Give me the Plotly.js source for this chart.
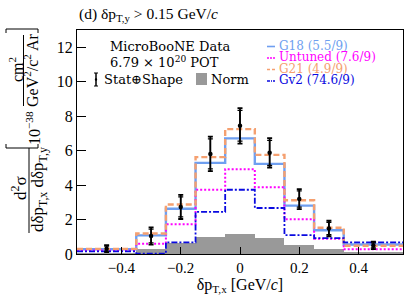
<!DOCTYPE html>
<html>
<head>
<meta charset="utf-8">
<script src="https://cdn.plot.ly/plotly-3.0.1.min.js"></script>
<style>html,body{margin:0;padding:0;background:#fff;}#plot{width:407px;height:295px;}</style>
</head>
<body>
<div id="plot"></div>
<script>
// ---- data ----
const binEdges   = [-0.55, -0.35, -0.25, -0.15, -0.05, 0.05, 0.15, 0.25, 0.35, 0.55];
const binCenters = [-0.45, -0.30, -0.20, -0.10, 0.00, 0.10, 0.20, 0.30, 0.45];
const binWidths  = [0.20, 0.10, 0.10, 0.10, 0.10, 0.10, 0.10, 0.10, 0.20];
const dataVals   = [0.31, 1.04, 2.73, 5.81, 7.44, 5.87, 3.19, 1.48, 0.50];
const errTotal   = [0.20, 0.50, 0.70, 1.00, 1.03, 0.85, 0.58, 0.45, 0.22];
const errStat    = [0.14, 0.40, 0.58, 0.87, 0.89, 0.73, 0.47, 0.36, 0.15];
const g18        = [0.28, 1.08, 2.63, 5.29, 6.71, 5.23, 2.81, 1.38, 0.55];
const untuned    = [0.20, 0.60, 1.73, 3.73, 4.92, 3.88, 2.02, 0.88, 0.28];
const g21        = [0.30, 1.19, 2.87, 5.62, 7.25, 5.75, 3.12, 1.52, 0.48];
const gv2        = [0.15, 0.02, 0.68, 2.44, 3.73, 2.67, 1.10, 0.92, 0.67];
const normUnc    = [0.05, 0.30, 0.62, 1.00, 1.15, 0.90, 0.52, 0.28, 0.10];
const xTicks     = [-0.4, -0.2, 0, 0.2, 0.4];
const yTicks     = [0, 2, 4, 6, 8, 10, 12];
const legendModels = ["G18 (5.5/9)", "Untuned (7.6/9)", "G21 (4.9/9)", "Gv2 (74.6/9)"];

// ---- styles ----
const FONT = "Liberation Serif, Times New Roman, serif";
const LFONT = "DejaVu Serif, Liberation Serif, serif";
const C_G18 = "#6f9ff0", C_UNT = "#ff00ff", C_G21 = "#f5a070", C_GV2 = "#0a0ae0", C_NORM = "#999999";
const W = 407, H = 295, L = 77, R = 403, T = 30, B = 254;
const px = x => (x - L) / (R - L);
const py = y => (B - y) / (B - T);

function stepY(v){ return v.concat([v[v.length-1]]); }
function hist(vals, color, dash, width, name){
  return {type:"scatter", mode:"lines", x:binEdges, y:stepY(vals), name:name,
    line:{shape:"hv", color:color, dash:dash, width:width}, hoverinfo:"skip", showlegend:false};
}

const traces = [
  {type:"bar", x:binCenters, y:normUnc, width:binWidths, marker:{color:C_NORM, line:{width:0}}, showlegend:false, hoverinfo:"skip", name:"Norm"},
  hist(g18, C_G18, "solid", 2.4, "G18"),
  hist(untuned, C_UNT, "2px,2px", 2, "Untuned"),
  hist(g21, C_G21, "6px,3px", 2.4, "G21"),
  hist(gv2, C_GV2, "6px,2px,2px,2px", 1.8, "Gv2"),
  {type:"scatter", mode:"markers", x:binCenters, y:dataVals, showlegend:false, hoverinfo:"skip",
    marker:{color:"black", size:1}, error_y:{type:"data", array:errTotal, visible:true, color:"black", thickness:1.8, width:2.5}},
  {type:"scatter", mode:"markers", x:binCenters, y:dataVals, showlegend:false, hoverinfo:"skip",
    marker:{color:"black", size:4.5}, error_y:{type:"data", array:errStat, visible:true, color:"black", thickness:1.2, width:2.5}}
];

const ann = [];
const shapes = [];
function A(text, x, y, opts){
  ann.push(Object.assign({text:text, xref:"paper", yref:"paper", x:px(x), y:py(y), showarrow:false,
    xanchor:"center", yanchor:"middle", font:{family:FONT, size:15, color:"black"}}, opts||{}));
}
function line(x0,y0,x1,y1,color,w,dash){
  shapes.push({type:"line", xref:"paper", yref:"paper", x0:px(x0), y0:py(y0), x1:px(x1), y1:py(y1),
    line:{color:color||"black", width:w||1, dash:dash||"solid"}});
}

// title
A("(d) δp<sub>T,y</sub> > 0.15 GeV/<i>c</i>", 77, 15, {xanchor:"left", font:{family:FONT, size:15.5, color:"black"}});

// y-axis title built as rotated fraction
A("d<sup>2</sup>σ", 19, 188, {textangle:-90, font:{family:FONT, size:17, color:"black"}});
line(29, 148, 29, 233, "black", 1);
A("dδp<sub>T,x</sub> dδp<sub>T,y</sub>", 39, 190, {textangle:-90, font:{family:FONT, size:17, color:"black"}});
A("10<sup>−38</sup>", 33, 128, {textangle:-90, font:{family:FONT, size:16, color:"black"}});
A("cm<sup>2</sup>", 16, 70, {textangle:-90, font:{family:FONT, size:16, color:"black"}});
line(23.5, 35, 23.5, 106, "black", 1);
A("GeV<sup>2</sup>/c<sup>2</sup> Ar", 31, 70, {textangle:-90, font:{family:FONT, size:16, color:"black"}});
// brackets
line(6, 148, 38, 148); line(6, 148, 6, 144); line(38, 148, 38, 144);
line(6, 29, 38, 29); line(6, 29, 6, 33); line(38, 29, 38, 33);

// left legend
const lf = {family:LFONT, size:13, color:"black"};
A("MicroBooNE Data", 108, 47, {xanchor:"left", font:lf});
A("6.79 × 10<sup>20</sup> POT", 108, 62, {xanchor:"left", font:lf});
A("Stat⊕Shape", 102, 79.5, {xanchor:"left", font:lf});
A("Norm", 209, 79.5, {xanchor:"left", font:lf});
line(96, 73, 96, 86, "black", 1.5); line(94, 73, 98, 73); line(94, 86, 98, 86);
shapes.push({type:"circle", xref:"paper", yref:"paper", x0:px(94.8), x1:px(97.2), y0:py(80.7), y1:py(78.3), fillcolor:"black", line:{width:0}});
shapes.push({type:"rect", xref:"paper", yref:"paper", x0:px(196), x1:px(207), y0:py(85), y1:py(73), fillcolor:C_NORM, line:{width:0}});

// right legend
const legCols = [C_G18, C_UNT, C_G21, C_GV2];
const legDash = ["solid", "2px,1px", "3px,2px", "3px,1px,1px,1px"];
const legY = [45.5, 57, 68.5, 80];
for (let i = 0; i < legendModels.length; i++){
  A(legendModels[i], 277, legY[i], {xanchor:"left", font:{family:LFONT, size:12, color:legCols[i]}});
  line(267, legY[i]+1, 275, legY[i]+1, legCols[i], 1.6, legDash[i]);
}

const layout = {
  width:W, height:H, margin:{l:L, r:W-R, t:T, b:H-B},
  paper_bgcolor:"white", plot_bgcolor:"white", showlegend:false, bargap:0,
  font:{family:FONT, size:15, color:"black"},
  xaxis:{range:[-0.55, 0.55], tickvals:xTicks, ticktext:xTicks.map(v => v===0 ? "0" : (v<0 ? "−"+Math.abs(v) : String(v))),
    ticks:"inside", ticklen:7, tickwidth:1, tickcolor:"black", showline:true, linecolor:"black", linewidth:1, mirror:true,
    showgrid:false, zeroline:false, tickfont:{family:FONT, size:15, color:"black"},
    title:{text:"δp<sub>T,x</sub> [GeV/<i>c</i>]", font:{family:FONT, size:16, color:"black"}, standoff:2}},
  yaxis:{range:[0, 13], tickvals:yTicks, ticks:"inside", ticklen:9, tickwidth:1, tickcolor:"black",
    showline:true, linecolor:"black", linewidth:1, mirror:true, showgrid:false, zeroline:false,
    tickfont:{family:FONT, size:16, color:"black"}},
  annotations:ann, shapes:shapes
};

Plotly.newPlot("plot", traces, layout, {staticPlot:true, displayModeBar:false});
</script>
</body>
</html>
